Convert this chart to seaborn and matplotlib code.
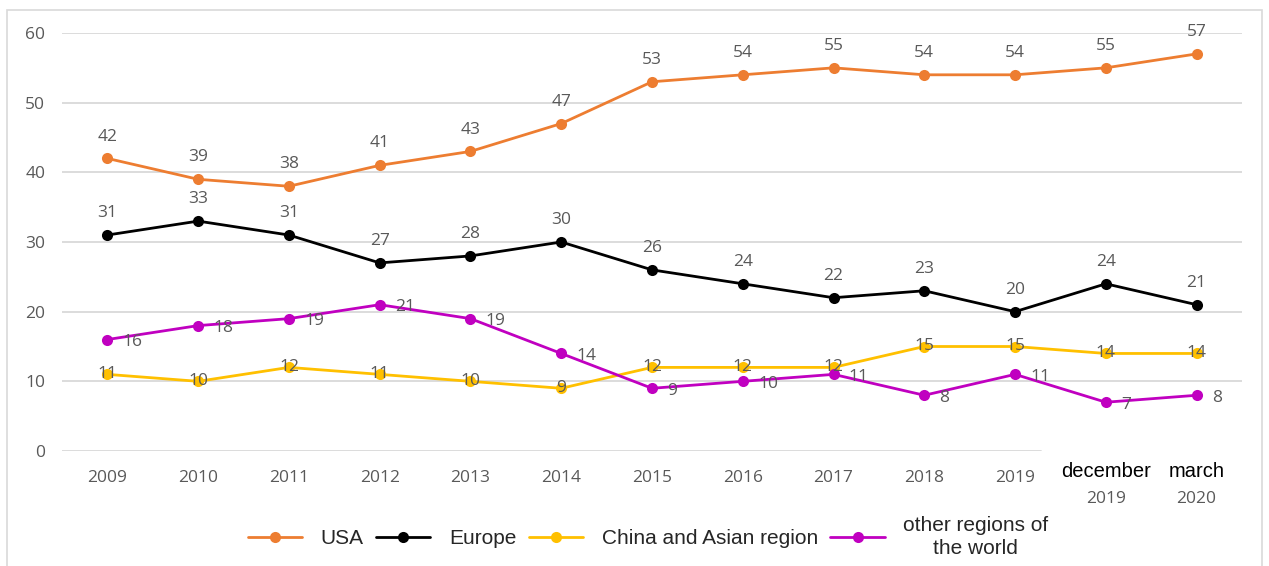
import pandas as pd
import numpy as np
import matplotlib.pyplot as plt
import matplotlib.patches as mpatches
import seaborn as sns

periods = ['2009', '2010', '2011', '2012', '2013', '2014', '2015', '2016',
           '2017', '2018', '2019', 'december\n2019', 'march\n2020']
usa = [42, 39, 38, 41, 43, 47, 53, 54, 55, 54, 54, 55, 57]
europe = [31, 33, 31, 27, 28, 30, 26, 24, 22, 23, 20, 24, 21]
china = [11, 10, 12, 11, 10, 9, 12, 12, 12, 15, 15, 14, 14]
other = [16, 18, 19, 21, 19, 14, 9, 10, 11, 8, 11, 7, 8]

series = ['USA', 'Europe', 'China and Asian region', 'other regions of\nthe world']
colors = ['#ED7D31', '#000000', '#FFC000', '#C000C0']

df = pd.DataFrame({
    'pos': list(range(len(periods))) * 4,
    'value': usa + europe + china + other,
    'region': np.repeat(series, len(periods)),
})

sns.set_style('white')
plt.rcParams['font.family'] = ['Open Sans', 'DejaVu Sans']

fig = plt.figure(figsize=(12.69, 5.66), dpi=100)
ax = fig.add_axes([62 / 1269, 1 - 451 / 566, 1180 / 1269, 418 / 566])

# gridlines (the 0 line stops short, as in the original)
for y in range(10, 61, 10):
    ax.axhline(y, color='#D9D9D9', lw=1.3, zorder=0)
ax.axhline(0, xmax=0.83, color='#D9D9D9', lw=1.3, zorder=0)

sns.lineplot(data=df, x='pos', y='value', hue='region', hue_order=series,
             palette=colors, marker='o', markersize=8, markeredgewidth=0,
             linewidth=2.0, sort=False, ax=ax, legend=False)

label_color = '#595959'
fs = 12.5
for i, v in enumerate(usa):
    ax.annotate(str(v), (i, v), xytext=(0, 10), textcoords='offset points',
                ha='center', va='bottom', fontsize=fs, color=label_color)
for i, v in enumerate(europe):
    ax.annotate(str(v), (i, v), xytext=(0, 10), textcoords='offset points',
                ha='center', va='bottom', fontsize=fs, color=label_color)
for i, v in enumerate(china):
    ax.annotate(str(v), (i, v), xytext=(0, 0), textcoords='offset points',
                ha='center', va='center', fontsize=fs, color=label_color)
for i, v in enumerate(other):
    ax.annotate(str(v), (i, v), xytext=(11, -2), textcoords='offset points',
                ha='left', va='center', fontsize=fs, color=label_color)

ax.set_xlim(-0.5, len(periods) - 0.5)
ax.set_ylim(0, 60)
ax.set_yticks(range(0, 61, 10))
ax.tick_params(axis='y', labelsize=fs, labelcolor=label_color, length=0, pad=12)
ax.set_xticks(range(len(periods)))
ax.set_xticklabels([p if '\n' not in p else '' for p in periods])
ax.tick_params(axis='x', labelsize=fs, labelcolor=label_color, length=0, pad=14)
ax.set_xlabel('')
ax.set_ylabel('')
for s in ax.spines.values():
    s.set_visible(False)

# two-part labels for the last periods
trans = ax.get_xaxis_transform()
for i, p in enumerate(periods):
    if '\n' in p:
        top, bottom = p.split('\n')
        ax.text(i, -0.05, top, transform=trans, ha='center', va='center',
                fontsize=14.5, color='black', family='Liberation Sans')
        ax.text(i, -0.115, bottom, transform=trans, ha='center', va='center',
                fontsize=fs, color=label_color)

handles = [plt.Line2D([], [], color=c, marker='o', markersize=8, lw=2.0,
                      markeredgewidth=0) for c in colors]
leg = fig.legend(handles, series, loc='center', bbox_to_anchor=(648 / 1269, 1 - 537 / 566),
                 ncol=4, frameon=False, handlelength=2.6, columnspacing=0.6,
                 handletextpad=0.9, prop={'family': 'Liberation Sans', 'size': 15})
for t in leg.get_texts():
    t.set_multialignment('center')
    t.set_linespacing(1.25)

fig.patches.append(mpatches.Rectangle((7 / 1269, -0.02), 1255 / 1269, 1.02 - 10 / 566,
                                      transform=fig.transFigure, fill=False,
                                      edgecolor='#D9D9D9', lw=1.2))

fig.savefig('out.png', dpi=100)
